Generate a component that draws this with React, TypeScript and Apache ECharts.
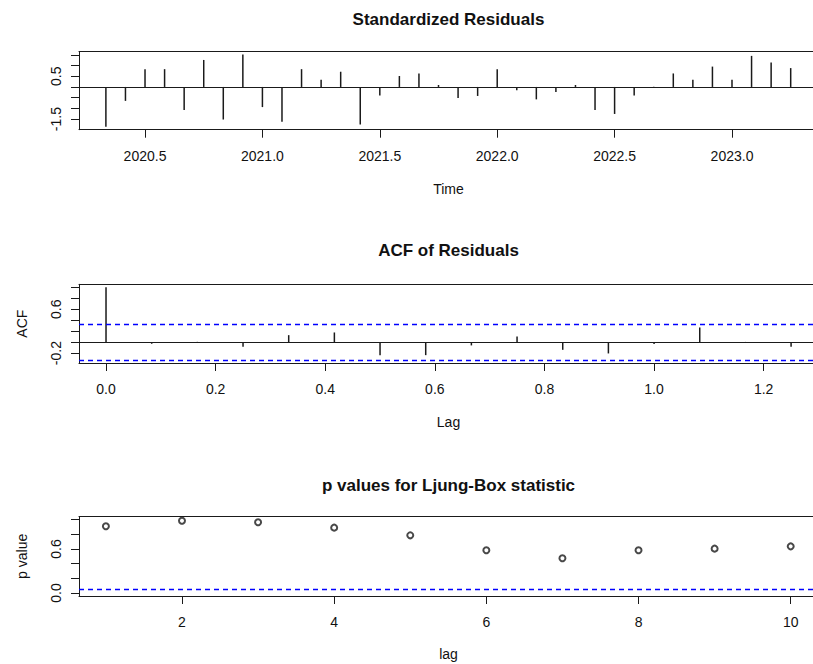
import { useEffect, useRef } from "react";
import * as echarts from "echarts";

// ---- data ----
const months = [
  "2020-05", "2020-06", "2020-07", "2020-08", "2020-09", "2020-10", "2020-11", "2020-12",
  "2021-01", "2021-02", "2021-03", "2021-04", "2021-05", "2021-06", "2021-07", "2021-08",
  "2021-09", "2021-10", "2021-11", "2021-12", "2022-01", "2022-02", "2022-03", "2022-04",
  "2022-05", "2022-06", "2022-07", "2022-08", "2022-09", "2022-10", "2022-11", "2022-12",
  "2023-01", "2023-02", "2023-03", "2023-04",
];
const residuals = [
  -1.86, -0.65, 0.83, 0.83, -1.08, 1.26, -1.52, 1.51,
  -0.94, -1.62, 0.83, 0.34, 0.71, -1.75, -0.40, 0.51,
  0.63, 0.09, -0.52, -0.42, 0.83, -0.15, -0.58, -0.23,
  0.09, -1.08, -1.26, -0.40, 0.01, 0.63, 0.34, 0.95,
  0.34, 1.45, 1.14, 0.88,
];
const acfLagMonths = [0, 1, 2, 3, 4, 5, 6, 7, 8, 9, 10, 11, 12, 13, 14, 15];
const acfValues = [
  1.0, -0.03, 0.005, -0.085, 0.127, 0.176, -0.237, -0.237,
  -0.06, 0.103, -0.14, -0.206, -0.036, 0.267, 0.004, -0.085,
];
const acfCI = 0.327;
const ljungLags = [1, 2, 3, 4, 5, 6, 7, 8, 9, 10];
const ljungPValues = [0.909, 0.986, 0.964, 0.891, 0.786, 0.582, 0.473, 0.582, 0.605, 0.636];
const pThreshold = 0.05;

const residYTicks = [-1.5, -1, -0.5, 0, 0.5, 1, 1.5];
const residYLabels = [-1.5, 0.5];
const timeTicks = [2020.5, 2021, 2021.5, 2022, 2022.5, 2023];
const acfYTicks = [-0.2, 0, 0.2, 0.4, 0.6, 0.8, 1.0];
const acfYLabels = [-0.2, 0.6];
const acfXTicks = [0, 0.2, 0.4, 0.6, 0.8, 1.0, 1.2];
const pYTicks = [0, 0.2, 0.4, 0.6, 0.8, 1.0];
const pYLabels = [0, 0.6];
const pXTicks = [2, 4, 6, 8, 10];

const FONT = '"Liberation Sans", Arial, sans-serif';
const INK = "#1a1a1a";

function toDecimalYear(m: string) {
  const [y, mo] = m.split("-").map(Number);
  return y + (mo - 1) / 12;
}

function bottomAxis(gridIndex: number, min: number, max: number, ticks: number[], fmt: (v: number) => string) {
  return {
    type: "value",
    gridIndex,
    min,
    max,
    position: "bottom",
    axisLine: { show: true, onZero: false, lineStyle: { color: INK, width: 1 } },
    axisTick: { show: true, length: 8, customValues: ticks, lineStyle: { color: INK, width: 1 } },
    axisLabel: {
      customValues: ticks,
      formatter: (v: number) => fmt(v),
      fontSize: 14,
      fontFamily: FONT,
      color: "#111",
      margin: 19,
    },
    splitLine: { show: false },
  };
}

function topAxis(gridIndex: number, min: number, max: number) {
  return {
    type: "value",
    gridIndex,
    min,
    max,
    position: "top",
    axisLine: { show: true, onZero: false, lineStyle: { color: INK, width: 1 } },
    axisTick: { show: false },
    axisLabel: { show: false },
    splitLine: { show: false },
  };
}

function leftAxis(gridIndex: number, min: number, max: number, ticks: number[], labels: number[]) {
  return {
    type: "value",
    gridIndex,
    min,
    max,
    axisLine: { show: true, onZero: false, lineStyle: { color: INK, width: 1 } },
    axisTick: { show: true, length: 8, customValues: ticks, lineStyle: { color: INK, width: 1 } },
    axisLabel: {
      customValues: labels,
      formatter: (v: number) => v.toFixed(1),
      rotate: 90,
      fontSize: 14,
      fontFamily: FONT,
      color: "#111",
      margin: 16,
    },
    splitLine: { show: false },
  };
}

function txt(text: string, x: number, y: number, opts: any = {}) {
  return {
    type: "text",
    x,
    y,
    rotation: opts.rotation || 0,
    style: {
      text,
      font: `${opts.bold ? "bold " : ""}${opts.size || 14}px ${FONT}`,
      fill: "#111",
      textAlign: "center",
      textVerticalAlign: "middle",
      verticalAlign: "middle",
    },
  };
}

export default function App() {
  const ref = useRef<HTMLDivElement>(null);

  useEffect(() => {
    if (!ref.current) return;
    const chart = echarts.init(ref.current, null, { renderer: "svg" });
    const times = months.map(toDecimalYear);
    const acfLags = acfLagMonths.map((k) => k / 12);

    const option = {
      animation: false,
      backgroundColor: "#fff",
      grid: [
        { left: 79, right: 0, top: 51.7, height: 78 },
        { left: 79, right: 0, top: 284.3, height: 78.7 },
        { left: 79, right: 0, top: 516.7, height: 79.3 },
      ],
      xAxis: [
        bottomAxis(0, 2020.2188, 2023.345, timeTicks, (v) => v.toFixed(1)),
        topAxis(0, 2020.2188, 2023.345),
        bottomAxis(1, -0.0493, 1.29, acfXTicks, (v) => v.toFixed(1)),
        topAxis(1, -0.0493, 1.29),
        bottomAxis(2, 0.6465, 10.293, pXTicks, (v) => String(v)),
        topAxis(2, 0.6465, 10.293),
      ],
      yAxis: [
        leftAxis(0, -1.995, 1.645, residYTicks, residYLabels),
        leftAxis(1, -0.38, 1.053, acfYTicks, acfYLabels),
        leftAxis(2, -0.04, 1.04, pYTicks, pYLabels),
      ],
      series: [
        {
          type: "bar",
          xAxisIndex: 0,
          yAxisIndex: 0,
          barWidth: 1.5,
          itemStyle: { color: INK },
          data: times.map((t, i) => [t, residuals[i]]),
          markLine: {
            silent: true,
            symbol: ["none", "none"],
            label: { show: false },
            lineStyle: { color: INK, type: "solid", width: 1 },
            data: [{ yAxis: 0 }],
          },
        },
        {
          type: "bar",
          xAxisIndex: 2,
          yAxisIndex: 1,
          barWidth: 1.5,
          itemStyle: { color: INK },
          data: acfLags.map((l, i) => [l, acfValues[i]]),
          markLine: {
            silent: true,
            symbol: ["none", "none"],
            label: { show: false },
            data: [
              { yAxis: 0, lineStyle: { color: INK, type: "solid", width: 1 } },
              { yAxis: acfCI, lineStyle: { color: "#0000ff", type: [5, 4], width: 1.3 } },
              { yAxis: -acfCI, lineStyle: { color: "#0000ff", type: [5, 4], width: 1.3 } },
            ],
          },
        },
        {
          type: "scatter",
          xAxisIndex: 4,
          yAxisIndex: 2,
          symbol: "emptyCircle",
          symbolSize: 6,
          itemStyle: { color: INK, borderWidth: 1 },
          data: ljungLags.map((l, i) => [l, ljungPValues[i]]),
          markLine: {
            silent: true,
            symbol: ["none", "none"],
            label: { show: false },
            data: [{ yAxis: pThreshold, lineStyle: { color: "#0000ff", type: [5, 4], width: 1.3 } }],
          },
        },
      ],
      graphic: [
        txt("Standardized Residuals", 448.5, 19.5, { bold: true, size: 17 }),
        txt("ACF of Residuals", 448.5, 250, { bold: true, size: 17 }),
        txt("p values for Ljung-Box statistic", 448.5, 485, { bold: true, size: 17 }),
        txt("Time", 448.5, 189.2),
        txt("Lag", 448.5, 421.7),
        txt("lag", 448.5, 654.2),
        txt("ACF", 22, 323.7, { rotation: Math.PI / 2 }),
        txt("p value", 22, 556.3, { rotation: Math.PI / 2 }),
      ],
    };
    chart.setOption(option as any);
    return () => chart.dispose();
  }, []);

  return (
    <div
      ref={ref}
      style={{ position: "absolute", left: 0, top: 0, width: 813, height: 664 }}
    />
  );
}
